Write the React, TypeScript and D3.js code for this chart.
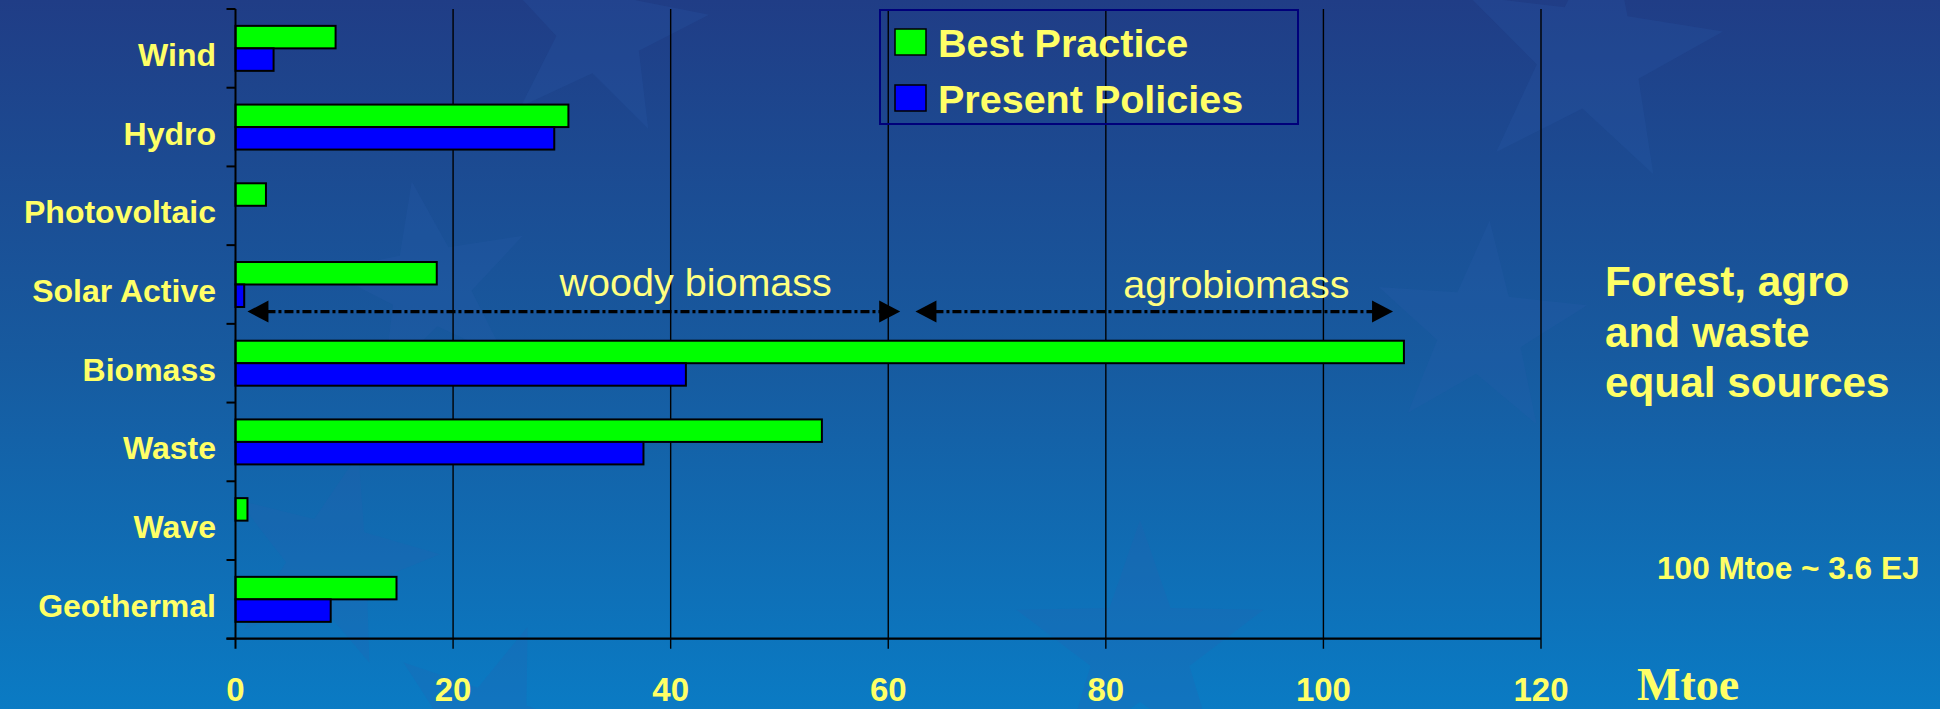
import React from "react";
import * as d3 from "d3";

const categories = ["Wind", "Hydro", "Photovoltaic", "Solar Active", "Biomass", "Waste", "Wave", "Geothermal"];
const bestPractice = [9.2, 30.6, 2.8, 18.5, 107.4, 53.9, 1.1, 14.8];
const presentPolicies = [3.5, 29.3, 0, 0.8, 41.4, 37.5, 0, 8.75];
const seriesNames = ["Best Practice", "Present Policies"];
const seriesColors = ["#00ff00", "#0000ff"];
const xTicks = [0, 20, 40, 60, 80, 100, 120];
const xDomain = [0, 120];
// annotation ranges (data units)
const woodyRange = [1.1, 61.1];
const agroRange = [62.5, 106.4];
const noteLines = ["Forest, agro", "and waste", "equal sources"];

const W = 1940;
const H = 709;
const YELLOW = "#ffff66";
const SANS = "'Liberation Sans', Arial, Helvetica, sans-serif";

function starPath(cx: number, cy: number, r: number, rot: number) {
  const pts: [number, number][] = [];
  for (let i = 0; i < 10; i++) {
    const rr = i % 2 === 0 ? r : r * 0.4;
    const a = ((-90 + rot + i * 36) * Math.PI) / 180;
    pts.push([cx + rr * Math.cos(a), cy + rr * Math.sin(a)]);
  }
  return d3.line()(pts) + "Z";
}

const stars = [
  [1590, 55, 135, 8],
  [600, 30, 110, 10],
  [430, 285, 105, -10],
  [330, 560, 110, 15],
  [1140, 650, 130, 0],
  [1480, 330, 110, 5],
  [490, 730, 110, 20],
];

export default function App() {
  const x = d3.scaleLinear().domain(xDomain).range([235.5, 1541]);
  const top = 9;
  const bottom = 638.7;
  const y = d3.scaleBand<string>().domain(categories).range([top, bottom]).padding(0);
  const inner = d3.scaleBand<string>().domain(seriesNames).range([0, y.bandwidth()]).paddingInner(0).paddingOuter(0.75);
  const values = [bestPractice, presentPolicies];
  const bandBounds = categories.map((c) => y(c) as number).concat([bottom]);
  const arrowY = (y("Solar Active") as number) + y.bandwidth() * 0.844;

  const arrow = (x0: number, x1: number, key: string) => {
    const a = x(x0);
    const b = x(x1);
    const hl = 21;
    const hh = 11;
    return (
      <g key={key}>
        <line x1={a + hl - 2} x2={b - hl + 2} y1={arrowY} y2={arrowY} stroke="#000" strokeWidth={3.2} strokeDasharray="9 3 3 3" />
        <path d={`M${a},${arrowY} L${a + hl},${arrowY - hh} L${a + hl},${arrowY + hh} Z`} fill="#000" />
        <path d={`M${b},${arrowY} L${b - hl},${arrowY - hh} L${b - hl},${arrowY + hh} Z`} fill="#000" />
      </g>
    );
  };

  return (
    <svg width={W} height={H} style={{ position: "absolute", left: 0, top: 0, display: "block" }} xmlns="http://www.w3.org/2000/svg">
      <defs>
        <linearGradient id="bg" x1="0" y1="0" x2="0" y2="1">
          <stop offset="0" stopColor="#203d86" />
          <stop offset="0.5" stopColor="#175a9f" />
          <stop offset="1" stopColor="#0a7bc4" />
        </linearGradient>
      </defs>
      <rect x={0} y={0} width={W} height={H} fill="url(#bg)" />
      {stars.map((s, i) => (
        <path key={i} d={starPath(s[0], s[1], s[2], s[3])} fill="#2f5fae" opacity={0.2} />
      ))}

      {/* gridlines */}
      {xTicks.slice(1).map((t) => (
        <line key={t} x1={x(t)} x2={x(t)} y1={top} y2={bottom + 10} stroke="#000" strokeWidth={1.4} />
      ))}

      {/* legend */}
      <rect x={880} y={10} width={418} height={114} fill="none" stroke="#00007a" strokeWidth={2} />
      {seriesNames.map((s, i) => (
        <g key={s}>
          <rect x={895} y={29 + i * 56} width={31} height={26} fill={seriesColors[i]} stroke="#000" strokeWidth={1.5} />
          <text x={938} y={57 + i * 56} fill={YELLOW} fontFamily={SANS} fontWeight="bold" fontSize={39.5}>
            {s}
          </text>
        </g>
      ))}

      {/* bars */}
      {categories.map((c, ci) =>
        seriesNames.map((s, si) => {
          const v = values[si][ci];
          if (!v) return null;
          return (
            <rect
              key={c + s}
              x={x(0)}
              y={(y(c) as number) + (inner(s) as number)}
              width={x(v) - x(0)}
              height={inner.bandwidth()}
              fill={seriesColors[si]}
              stroke="#000"
              strokeWidth={2}
            />
          );
        })
      )}

      {/* axes */}
      <line x1={x(0)} x2={x(0)} y1={top} y2={bottom + 10} stroke="#000" strokeWidth={2} />
      <line x1={x(0) - 9} x2={x(120)} y1={bottom} y2={bottom} stroke="#000" strokeWidth={2.2} />
      {bandBounds.map((b, i) => (
        <line key={i} x1={x(0) - 9} x2={x(0)} y1={b} y2={b} stroke="#000" strokeWidth={2} />
      ))}
      {xTicks.map((t) => (
        <text key={t} x={x(t)} y={701} textAnchor="middle" fill={YELLOW} fontFamily={SANS} fontWeight="bold" fontSize={33}>
          {t}
        </text>
      ))}
      {categories.map((c) => (
        <text
          key={c}
          x={216}
          y={(y(c) as number) + y.bandwidth() / 2 + 17.5}
          textAnchor="end"
          fill={YELLOW}
          fontFamily={SANS}
          fontWeight="bold"
          fontSize={32}
        >
          {c}
        </text>
      ))}

      {/* annotations */}
      {arrow(woodyRange[0], woodyRange[1], "woody")}
      {arrow(agroRange[0], agroRange[1], "agro")}
      <text x={x(42.3)} y={296} textAnchor="middle" fill="#ffff80" fontFamily={SANS} fontSize={39.5}>
        woody biomass
      </text>
      <text x={x(92)} y={298} textAnchor="middle" fill="#ffff80" fontFamily={SANS} fontSize={39.5}>
        agrobiomass
      </text>

      {noteLines.map((l, i) => (
        <text key={l} x={1605} y={296 + i * 50.5} fill={YELLOW} fontFamily={SANS} fontWeight="bold" fontSize={42.3}>
          {l}
        </text>
      ))}
      <text x={1657} y={579} fill={YELLOW} fontFamily={SANS} fontWeight="bold" fontSize={31.6}>
        100 Mtoe ~ 3.6 EJ
      </text>
      <text x={1637} y={700} fill={YELLOW} fontFamily="'Liberation Serif', 'Times New Roman', serif" fontWeight="bold" fontSize={46}>
        Mtoe
      </text>
    </svg>
  );
}
